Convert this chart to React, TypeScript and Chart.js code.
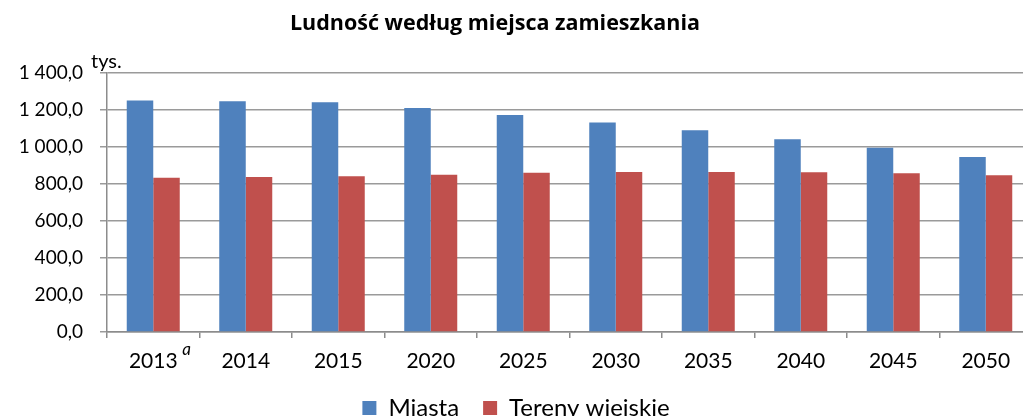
import React, { useEffect, useRef } from "react";
import { Chart, registerables } from "chart.js";

Chart.register(...registerables);

const categories = ["2013", "2014", "2015", "2020", "2025", "2030", "2035", "2040", "2045", "2050"];
const miasta = [1252, 1247, 1242, 1211, 1173, 1133, 1090, 1042, 996, 946];
const tereny = [834, 838, 842, 850, 861, 865, 865, 863, 858, 847];
const yTicks = [0, 200, 400, 600, 800, 1000, 1200, 1400];
const titleText = "Ludność według miejsca zamieszkania";
const unitText = "tys.";
const footnoteMark = "a";

const FONT = "Lato, 'Open Sans', sans-serif";

function fmt(v: number): string {
  const s = v.toFixed(1).replace(".", ",");
  const [int, dec] = s.split(",");
  const withSp = int.replace(/\B(?=(\d{3})+(?!\d))/g, " ");
  return withSp + "," + dec;
}

export default function App() {
  const ref = useRef<HTMLCanvasElement | null>(null);

  useEffect(() => {
    if (!ref.current) return;
    const textPlugin = {
      id: "extraText",
      afterDraw(chart: any) {
        const ctx = chart.ctx;
        ctx.save();
        ctx.fillStyle = "#000";
        ctx.textAlign = "center";
        ctx.textBaseline = "alphabetic";
        ctx.font = `bold 21.5px 'Open Sans', sans-serif`;
        ctx.fillText(titleText, 495, 30);
        ctx.textAlign = "left";
        ctx.font = `20px ${FONT}`;
        ctx.fillText(unitText, 91, 67.5);
        const xs = chart.scales.x;
        ctx.font = `italic 17px ${FONT}`;
        ctx.fillText(footnoteMark, xs.getPixelForValue(0) + 29, xs.top + 23);
        ctx.restore();
      },
    };
    const chart = new Chart(ref.current, {
      type: "bar",
      data: {
        labels: categories,
        datasets: [
          { label: "Miasta", data: miasta, backgroundColor: "#4F81BD", borderWidth: 0 },
          { label: "Tereny wiejskie", data: tereny, backgroundColor: "#C0504D", borderWidth: 0 },
        ],
      },
      options: {
        responsive: false,
        animation: false,
        datasets: { bar: { categoryPercentage: 0.573, barPercentage: 1 } },
        layout: { padding: { top: 73, right: 8, left: 0, bottom: 0 } },
        plugins: {
          title: { display: false },
          tooltip: { enabled: false },
          legend: {
            position: "bottom",
            labels: {
              boxWidth: 14,
              boxHeight: 14,
              padding: 24,
              color: "#000",
              font: { family: FONT, size: 24 },
            },
          },
        },
        scales: {
          x: {
            afterFit: (s: any) => { s.height = 40; },
            grid: { drawOnChartArea: false, drawTicks: true, tickLength: 6, color: "#8c8c8c", lineWidth: 1.5 },
            border: { display: true, color: "#8c8c8c", width: 1.5 },
            ticks: { color: "#000", font: { family: FONT, size: 21 }, padding: 11, maxRotation: 0 },
          },
          y: {
            min: 0,
            max: 1400,
            afterFit: (s: any) => { s.width = 107; },
            afterBuildTicks: (s: any) => { s.ticks = yTicks.map((v) => ({ value: v })); },
            grid: { color: "#9a9a9a", lineWidth: 1.5, drawTicks: true, tickLength: 7 },
            border: { display: true, color: "#8c8c8c", width: 1.5 },
            ticks: {
              color: "#000",
              font: { family: FONT, size: 19 },
              padding: 17,
              callback: (v: any) => fmt(Number(v)),
            },
          },
        },
      },
      plugins: [textPlugin],
    });
    return () => chart.destroy();
  }, []);

  return (
    <div style={{ position: "fixed", left: 0, top: 0, width: 1023, height: 416, overflow: "hidden", background: "#fff" }}>
      <canvas ref={ref} width={1040} height={430} style={{ width: 1040, height: 430, display: "block" }} />
    </div>
  );
}
